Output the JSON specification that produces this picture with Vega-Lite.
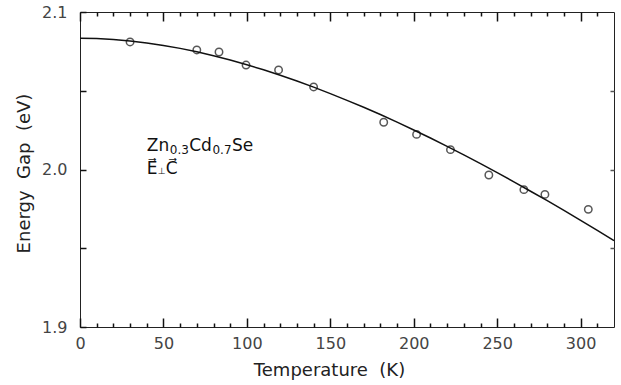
{
  "$schema": "https://vega.github.io/schema/vega-lite/v6.json",
  "width": 534,
  "height": 315,
  "autosize": "none",
  "padding": {"left": 80, "top": 12, "right": 7, "bottom": 58},
  "background": "white",
  "config": {
    "view": {"stroke": "#222", "strokeWidth": 1},
    "axis": {"labelFont": "DejaVu Sans", "titleFont": "DejaVu Sans", "labelFontSize": 16, "titleFontSize": 18, "labelColor": "#444", "titleColor": "#222", "titleFontWeight": "normal", "grid": false, "domain": false, "tickWidth": 1.5}
  },
  "datasets": {
    "curve": [
      {"T": 0, "E": 2.0833}, {"T": 10, "E": 2.0831}, {"T": 20, "E": 2.0825}, {"T": 30, "E": 2.0816},
      {"T": 40, "E": 2.0803}, {"T": 50, "E": 2.0788}, {"T": 60, "E": 2.0769}, {"T": 70, "E": 2.0747},
      {"T": 80, "E": 2.0722}, {"T": 90, "E": 2.0695}, {"T": 100, "E": 2.0665}, {"T": 110, "E": 2.0633},
      {"T": 120, "E": 2.0598}, {"T": 130, "E": 2.0562}, {"T": 140, "E": 2.0523}, {"T": 150, "E": 2.0482},
      {"T": 160, "E": 2.0439}, {"T": 170, "E": 2.0395}, {"T": 180, "E": 2.0349}, {"T": 190, "E": 2.0301},
      {"T": 200, "E": 2.0251}, {"T": 210, "E": 2.02}, {"T": 220, "E": 2.0147}, {"T": 230, "E": 2.0093},
      {"T": 240, "E": 2.0037}, {"T": 250, "E": 1.998}, {"T": 260, "E": 1.9922}, {"T": 270, "E": 1.9862},
      {"T": 280, "E": 1.9802}, {"T": 290, "E": 1.974}, {"T": 300, "E": 1.9677}, {"T": 310, "E": 1.9613},
      {"T": 320, "E": 1.9548}
    ],
    "points": [
      {"T": 30, "E": 2.081}, {"T": 70, "E": 2.0759}, {"T": 83.3, "E": 2.0746}, {"T": 99.5, "E": 2.0663},
      {"T": 119, "E": 2.0632}, {"T": 140, "E": 2.0524}, {"T": 182, "E": 2.030}, {"T": 201.7, "E": 2.0223},
      {"T": 222, "E": 2.0126}, {"T": 245, "E": 1.9965}, {"T": 266, "E": 1.9872}, {"T": 278.6, "E": 1.9842},
      {"T": 304.6, "E": 1.9747}
    ],
    "one": [{}]
  },
  "layer": [
    {
      "data": {"name": "curve"},
      "mark": {"type": "line", "color": "#111", "strokeWidth": 1.5},
      "encoding": {
        "x": {"field": "T", "type": "quantitative", "scale": {"domain": [0, 320], "nice": false, "zero": false},
          "axis": {"orient": "bottom", "offset": -9, "tickSize": 9, "tickColor": "#111", "title": "Temperature\u00a0 (K)", "values": [0, 50, 100, 150, 200, 250, 300],
            "labelPadding": 8, "labelFlush": false, "labelOverlap": false, "titleX": 249, "titleY": 57, "titleBaseline": "alphabetic"}},
        "y": {"field": "E", "type": "quantitative", "scale": {"domain": [1.9, 2.1], "nice": false, "zero": false},
          "axis": {"orient": "left", "offset": -6, "tickSize": 6, "tickColor": "#111", "title": "Energy\u00a0 Gap\u00a0 (eV)", "values": [1.9, 1.95, 2.0, 2.05, 2.1],
            "labelExpr": "abs(datum.value*20 - round(datum.value*20)) < 0.01 && round(datum.value*20) % 2 === 0 ? format(datum.value, '.1f') : ''",
            "labelPadding": 13, "labelFlush": false, "labelOverlap": false, "titleX": -57, "titleY": 161, "titleBaseline": "alphabetic", "titleAnchor": "middle"}}
      }
    },
    {
      "data": {"name": "points"},
      "mark": {"type": "point", "shape": "circle", "filled": false, "stroke": "#111", "strokeWidth": 1.5, "size": 55},
      "encoding": {
        "x": {"field": "T", "type": "quantitative",
          "axis": {"orient": "top", "offset": -9, "tickSize": 9, "tickColor": "#111", "title": null, "labels": false, "values": [0, 50, 100, 150, 200, 250, 300]}},
        "y": {"field": "E", "type": "quantitative",
          "axis": {"orient": "right", "offset": -4, "tickSize": 4, "title": null, "labels": false, "values": [1.95, 2.0, 2.05], "tickColor": "#555"}}
      }
    },
    {
      "data": {"name": "one"},
      "mark": {"type": "text", "font": "DejaVu Sans", "fontSize": 17, "align": "left", "baseline": "alphabetic", "color": "#111"},
      "encoding": {
        "x": {"datum": 40, "type": "quantitative",
          "axis": {"orient": "bottom", "offset": -4, "tickSize": 4, "tickColor": "#111", "title": null, "labels": false, "values": [10,20,30,40,60,70,80,90,110,120,130,140,160,170,180,190,210,220,230,240,260,270,280,290,310]}},
        "y": {"datum": 2.0115, "type": "quantitative", "axis": null}, "text": {"value": "Zn"}}
    },
    {
      "data": {"name": "one"},
      "mark": {"type": "text", "font": "DejaVu Sans", "fontSize": 12, "align": "left", "baseline": "alphabetic", "color": "#111", "dx": 23, "dy": 2.5},
      "encoding": {
        "x": {"datum": 40, "type": "quantitative",
          "axis": {"orient": "top", "offset": -4, "tickSize": 4, "tickColor": "#111", "title": null, "labels": false, "values": [10,20,30,40,60,70,80,90,110,120,130,140,160,170,180,190,210,220,230,240,260,270,280,290,310]}},
        "y": {"datum": 2.0115, "type": "quantitative", "axis": null}, "text": {"value": "0.3"}}
    },
    {
      "data": {"name": "one"},
      "mark": {"type": "text", "font": "DejaVu Sans", "fontSize": 17, "align": "left", "baseline": "alphabetic", "color": "#111", "dx": 42.5},
      "encoding": {"x": {"datum": 40, "type": "quantitative", "axis": null}, "y": {"datum": 2.0115, "type": "quantitative", "axis": null}, "text": {"value": "Cd"}}
    },
    {
      "data": {"name": "one"},
      "mark": {"type": "text", "font": "DejaVu Sans", "fontSize": 12, "align": "left", "baseline": "alphabetic", "color": "#111", "dx": 65.7, "dy": 2.5},
      "encoding": {"x": {"datum": 40, "type": "quantitative", "axis": null}, "y": {"datum": 2.0115, "type": "quantitative", "axis": null}, "text": {"value": "0.7"}}
    },
    {
      "data": {"name": "one"},
      "mark": {"type": "text", "font": "DejaVu Sans", "fontSize": 17, "align": "left", "baseline": "alphabetic", "color": "#111", "dx": 85.3},
      "encoding": {"x": {"datum": 40, "type": "quantitative", "axis": null}, "y": {"datum": 2.0115, "type": "quantitative", "axis": null}, "text": {"value": "Se"}}
    },
    {
      "data": {"name": "one"},
      "mark": {"type": "text", "font": "DejaVu Sans", "fontSize": 17, "align": "left", "baseline": "alphabetic", "color": "#111", "dy": 23},
      "encoding": {"x": {"datum": 40, "type": "quantitative", "axis": null}, "y": {"datum": 2.0115, "type": "quantitative", "axis": null}, "text": {"value": "E\u20d7"}}
    },
    {
      "data": {"name": "one"},
      "mark": {"type": "text", "font": "DejaVu Sans", "fontSize": 9, "align": "left", "baseline": "alphabetic", "color": "#111", "dx": 11, "dy": 23},
      "encoding": {"x": {"datum": 40, "type": "quantitative", "axis": null}, "y": {"datum": 2.0115, "type": "quantitative", "axis": null}, "text": {"value": "\u22a5"}}
    },
    {
      "data": {"name": "one"},
      "mark": {"type": "text", "font": "DejaVu Sans", "fontSize": 17, "align": "left", "baseline": "alphabetic", "color": "#111", "dx": 19, "dy": 23},
      "encoding": {"x": {"datum": 40, "type": "quantitative", "axis": null}, "y": {"datum": 2.0115, "type": "quantitative", "axis": null}, "text": {"value": "C\u20d7"}}
    }
  ],
  "resolve": {"axis": {"x": "independent", "y": "independent"}}
}
